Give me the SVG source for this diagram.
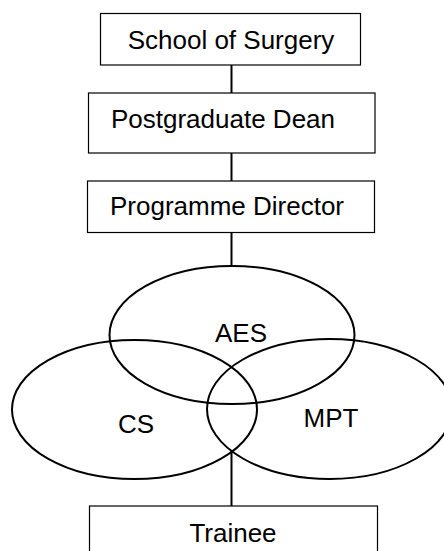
<svg xmlns="http://www.w3.org/2000/svg" width="444" height="551" viewBox="0 0 444 551">
<style>
.box{fill:#fff;stroke:#000;stroke-width:1.2}
.ell{fill:none;stroke:#000;stroke-width:2}
.con{stroke:#000;stroke-width:2;fill:none}
text{font-family:"Liberation Sans",Arial,sans-serif;font-size:26px;fill:#000;text-anchor:middle}
</style>
<rect width="444" height="551" fill="#fff"/>
<g id="connectors">
<line class="con" x1="231.5" y1="65" x2="231.5" y2="93"/>
<line class="con" x1="231.5" y1="153" x2="231.5" y2="181"/>
<line class="con" x1="231.5" y1="232" x2="231.5" y2="266"/>
<line class="con" x1="231.5" y1="451" x2="231.5" y2="506"/>
</g>
<g id="school">
<rect class="box" x="100.5" y="13.5" width="260" height="51.5"/>
<text x="231" y="49">School of Surgery</text>
</g>
<g id="dean">
<rect class="box" x="88.5" y="93" width="286.5" height="60"/>
<text x="223" y="128">Postgraduate Dean</text>
</g>
<g id="director">
<rect class="box" x="87.5" y="181" width="287" height="51.5"/>
<text x="227" y="215">Programme Director</text>
</g>
<g id="aes">
<ellipse class="ell" cx="232" cy="335" rx="122.5" ry="69"/>
<text x="241" y="341.5">AES</text>
</g>
<g id="cs">
<ellipse class="ell" cx="134.5" cy="409.5" rx="122.5" ry="69.5"/>
<text x="136" y="433">CS</text>
</g>
<g id="mpt">
<ellipse class="ell" cx="329.5" cy="409" rx="122.5" ry="70"/>
<text x="331" y="427">MPT</text>
</g>
<g id="trainee">
<rect class="box" x="89.5" y="506" width="288" height="60"/>
<text x="233" y="541.5">Trainee</text>
</g>
</svg>
